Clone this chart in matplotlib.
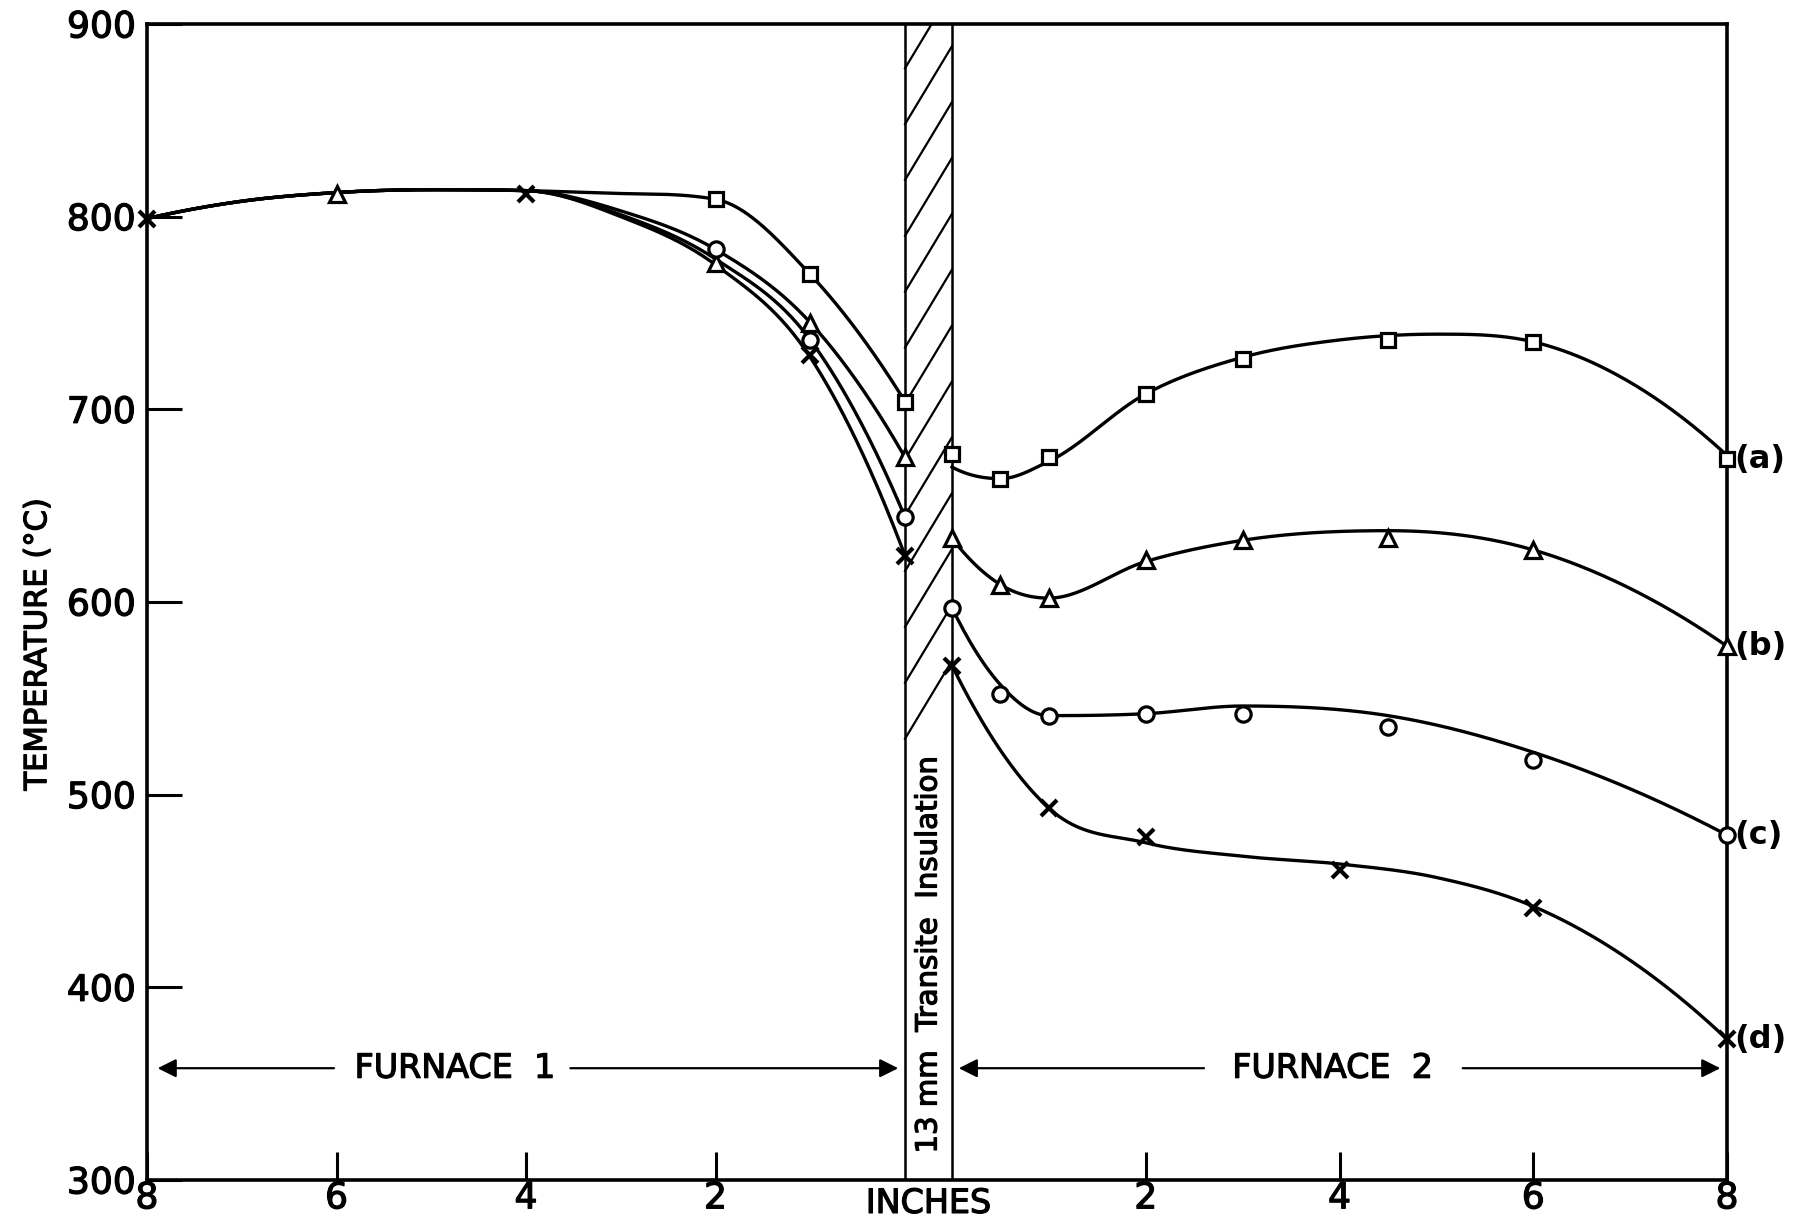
import numpy as np
import matplotlib
matplotlib.use("Agg")
import matplotlib.pyplot as plt
import matplotlib.patheffects as pe

plt.rcParams['font.family'] = ['DejaVu Sans']

# ---- data (distance in inches, temperature in deg C) ----
series = ['a', 'b', 'c', 'd']
markers = {'a': 's', 'b': '^', 'c': 'o', 'd': 'x'}

# points shared by all four runs in furnace 1
common_dist = [8, 6, 4]
common_temp = [799, 812, 812]
common_marker = ['x', '^', 'x']

# measured points, furnace 1 (distance from the insulation)
f1_dist = {'a': [2, 1, 0], 'b': [2, 1, 0], 'c': [2, 1, 0], 'd': [1, 0]}
f1_temp = {'a': [809, 770, 704], 'b': [776, 745, 675],
           'c': [783, 736, 644], 'd': [728, 624]}

# measured points, furnace 2
f2_dist = {'a': [0, 0.5, 1, 2, 3, 4.5, 6, 8],
           'b': [0, 0.5, 1, 2, 3, 4.5, 6, 8],
           'c': [0, 0.5, 1, 2, 3, 4.5, 6, 8],
           'd': [0, 1, 2, 4, 6, 8]}
f2_temp = {'a': [677, 664, 675, 708, 726, 736, 735, 674],
           'b': [633, 609, 602, 622, 632, 633, 627, 577],
           'c': [597, 552, 541, 542, 542, 535, 518, 479],
           'd': [567, 493, 478, 461, 441, 373]}

# hand-drawn smooth curves
curve_common_dist = [8, 7, 6, 5, 4]
curve_common_temp = [799, 808, 812.5, 814, 813.5]
curve1_dist = [3, 2, 1, 0]
curve1_temp = {'a': [812, 809, 770, 704], 'b': [803, 783, 745, 675],
               'c': [801, 778, 736, 644], 'd': [800, 775, 727, 624]}
curve2_dist = {'a': [0, 0.5, 1, 2, 3, 4, 5, 6, 7, 8],
               'b': [0, 0.5, 1, 2, 3, 4.5, 6, 7, 8],
               'c': [0, 0.5, 1, 2, 3, 4.5, 6, 7, 8],
               'd': [0, 1, 2, 3, 4, 5, 6, 7, 8]}
curve2_temp = {'a': [670, 664, 673, 708, 727, 736, 739, 735, 714, 676],
               'b': [633, 609, 602, 621, 632, 637, 627, 607, 577],
               'c': [597, 557, 541, 542, 546, 541, 522, 503, 479],
               'd': [567, 493, 475, 468, 464, 457, 442, 414, 373]}

y_ticks = [300, 400, 500, 600, 700, 800, 900]
x_tick_inches = [8, 6, 4, 2]

# drawing scale: furnace 1 inches are drawn a little shorter than furnace 2
F1 = 0.978
BAND = 0.485  # width of the 13 mm transite layer
B0 = 8 * F1
B1 = B0 + BAND
XMAX = B1 + 8


def u1(d):
    return B0 - F1 * np.asarray(d, float)


def u2(d):
    return B1 + np.asarray(d, float)


def smooth(x, y, xn):
    # monotone cubic hermite with centred slopes
    x = np.asarray(x, float)
    y = np.asarray(y, float)
    h = np.diff(x)
    dl = np.diff(y) / h
    n = len(x)
    m = np.zeros(n)
    for k in range(1, n - 1):
        if dl[k - 1] * dl[k] > 0:
            m[k] = (dl[k - 1] * h[k] + dl[k] * h[k - 1]) / (h[k - 1] + h[k])
    for k0, k1, i in ((0, 1, 0), (-1, -2, -1)):
        v = ((2 * h[k0] + h[k1]) * dl[k0] - h[k0] * dl[k1]) / (h[k0] + h[k1])
        m[i] = v if np.sign(v) == np.sign(dl[k0]) else 0.0
    for k in range(n - 1):
        if dl[k] == 0:
            m[k] = m[k + 1] = 0
            continue
        a, b = m[k] / dl[k], m[k + 1] / dl[k]
        r = a * a + b * b
        if r > 9:
            t = 3 / np.sqrt(r)
            m[k], m[k + 1] = t * a * dl[k], t * b * dl[k]
    idx = np.clip(np.searchsorted(x, xn) - 1, 0, n - 2)
    t = (xn - x[idx]) / h[idx]
    h00 = 2 * t**3 - 3 * t**2 + 1
    h10 = t**3 - 2 * t**2 + t
    h01 = -2 * t**3 + 3 * t**2
    h11 = t**3 - t**2
    return (h00 * y[idx] + h10 * h[idx] * m[idx]
            + h01 * y[idx + 1] + h11 * h[idx] * m[idx + 1])


ink = [pe.withStroke(linewidth=0.9, foreground='black')]

fig = plt.figure(figsize=(18.06, 12.23), dpi=100)
ax = fig.add_axes([0.0814, 0.0352, 0.8749, 0.9452])
ax.set_xlim(0, XMAX)
ax.set_ylim(300, 900)

lw = 2.4
# curves
for s in series:
    ux = np.concatenate([u1(curve_common_dist), u1(curve1_dist)])
    ty = np.concatenate([curve_common_temp, curve1_temp[s]])
    xs = np.linspace(ux[0], ux[-1], 400)
    ax.plot(xs, smooth(ux, ty, xs), color='black', lw=lw, zorder=3)
    ux2 = u2(curve2_dist[s])
    xs2 = np.linspace(ux2[0], ux2[-1], 400)
    ax.plot(xs2, smooth(ux2, curve2_temp[s], xs2), color='black', lw=lw, zorder=3)

# markers
msize = {'s': 10.5, '^': 12, 'o': 11, 'x': 11}


def mark(xv, yv, mk):
    ax.plot(xv, yv, linestyle='none', marker=mk, ms=msize[mk],
            mfc='white', mec='black', mew=3.0 if mk == 'x' else 2.3,
            zorder=5, clip_on=False)


for d, t, mk in zip(common_dist, common_temp, common_marker):
    mark(u1([d]), [t], mk)
for s in series:
    mark(u1(f1_dist[s]), f1_temp[s], markers[s])
    mark(u2(f2_dist[s]), f2_temp[s], markers[s])

# insulation band with hatching in its upper part
ax.axvline(B0, color='black', lw=1.8, zorder=2)
ax.axvline(B1, color='black', lw=1.8, zorder=2)
hatch_low, hatch_step, hatch_rise = 529, 29, 40.5
for k in range(13):
    y0 = hatch_low + k * hatch_step
    ax.plot([B0, B1], [y0, y0 + hatch_rise], color='black', lw=1.6, zorder=2)
ax.text((B0 + B1) / 2, 417, '13 mm  Transite  Insulation', rotation=90,
        ha='center', va='center', fontsize=21, zorder=4, path_effects=ink)

# furnace annotations
arrow = dict(arrowstyle='-|>', color='black', lw=1.6, mutation_scale=28,
             shrinkA=0, shrinkB=0)
ya = 358
ax.text(3.18, ya, 'FURNACE  1', ha='center', va='center', fontsize=24,
        path_effects=ink)
ax.annotate('', xy=(0.11, ya), xytext=(1.93, ya), arrowprops=arrow)
ax.annotate('', xy=(B0 - 0.07, ya), xytext=(4.37, ya), arrowprops=arrow)
ax.text(12.24, ya, 'FURNACE  2', ha='center', va='center', fontsize=24,
        path_effects=ink)
ax.annotate('', xy=(B1 + 0.07, ya), xytext=(10.91, ya), arrowprops=arrow)
ax.annotate('', xy=(XMAX - 0.07, ya), xytext=(13.58, ya), arrowprops=arrow)

# run labels at the right edge
for s in series:
    ax.text(XMAX + 0.07, f2_temp[s][-1], '(%s)' % s, ha='left', va='center',
            fontsize=23, fontweight='bold')

# axes styling
for sp in ax.spines.values():
    sp.set_linewidth(2.6)
xt = list(u1(x_tick_inches)) + list(u2(x_tick_inches[::-1]))
xl = [str(v) for v in x_tick_inches] + [str(v) for v in x_tick_inches[::-1]]
ax.set_xticks(xt)
ax.set_xticklabels(xl)
ax.set_yticks(y_ticks)
ax.tick_params(axis='x', direction='in', length=20, width=2.2, labelsize=26, pad=1)
ax.tick_params(axis='y', direction='in', length=25, width=2.2, labelsize=26, pad=8)
for lab in ax.get_xticklabels() + ax.get_yticklabels():
    lab.set_path_effects(ink)
ax.text((B0 + B1) / 2, -0.006, 'INCHES', transform=ax.get_xaxis_transform(),
        ha='center', va='top', fontsize=24, path_effects=ink)
ax.set_ylabel('TEMPERATURE (°C)', fontsize=22, path_effects=ink)
ax.yaxis.set_label_coords(-0.060, 0.463)

fig.savefig('out.png', dpi=100)
